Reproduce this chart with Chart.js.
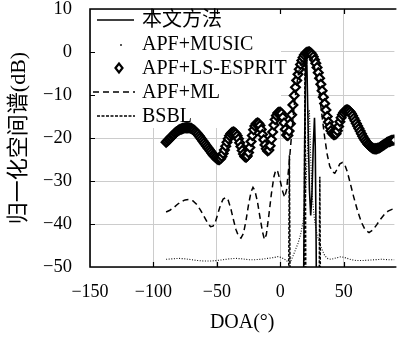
<!DOCTYPE html>
<html><head><meta charset="utf-8">
<script src="https://cdn.jsdelivr.net/npm/chart.js@4/dist/chart.umd.min.js"></script>
<style>html,body{margin:0;padding:0;background:#fff}canvas{display:block}</style>
</head><body>
<canvas id="c" width="401" height="338"></canvas>
<script>
// ---- data ----
const xTicks = [-150, -100, -50, 0, 50];
const yTicks = [-50, -40, -30, -20, -10, 0, 10];
const seriesNames = ['本文方法', 'APF+MUSIC', 'APF+LS-ESPRIT', 'APF+ML', 'BSBL'];

const propDeg = [-90, 17, 18.5, 19.3, 20, 20.5, 21, 22, 23, 24, 25, 26, 27, 27.6, 28.3, 29, 90];
const propDb  = [-80, -80, -50, -20, -3, 0, -3, -18, -32, -38, -33, -22, -15.3, -22, -45, -80, -80];

const musicDeg = [-90,-85,-80,-75,-70,-65,-60,-55,-50,-45,-40,-35,-30,-25,-20,-15,-10,-5,-2,1,4,6,8,10,12,14,16,18,20,21.5,22.5,23,23.8,25,27,29,31,33,35,37,40,44,48,52,56,60,65,70,75,80,85,90];
const musicDb  = [-48.2,-48.1,-48,-48.1,-48.3,-48.5,-48.6,-48.6,-48.5,-48.3,-48.1,-48,-48.1,-48.3,-48.3,-48.2,-48,-47.8,-47.6,-47.8,-48.3,-48.8,-48.8,-47.5,-46,-44.5,-42.5,-39.5,-33,-22,-14,-13.5,-22.8,-33,-39,-42.5,-44.5,-46,-47.3,-48,-48.2,-47.9,-47.6,-47.9,-48.3,-48.5,-48.5,-48.4,-48.3,-48.2,-48.3,-48.3];

const espritDeg = [-90,-89,-88,-87,-86,-85,-84,-83,-82,-81,-80,-79,-78,-77,-76,-75,-74,-73,-72,-71,-70,-69,-68,-67,-66,-65,-64,-63,-62,-61,-60,-59,-58,-57,-56,-55,-54,-53,-52,-51,-50,-49,-48,-47,-46,-45,-44,-43,-42,-41,-40,-39,-38,-37,-36,-35,-34,-33,-32,-31,-30,-29,-28,-27,-26,-25,-24,-23,-22,-21,-20,-19,-18,-17,-16,-15,-14,-13,-12,-11,-10,-9,-8,-7,-6,-5,-4,-3,-2,-1,0,1,2,3,4,5,6,7,8,9,10,11,12,13,14,15,16,17,18,19,20,21,22,23,24,25,26,27,28,29,30,31,32,33,34,35,36,37,38,39,40,41,42,43,44,45,46,47,48,49,50,51,52,53,54,55,56,57,58,59,60,61,62,63,64,65,66,67,68,69,70,71,72,73,74,75,76,77,78,79,80,81,82,83,84,85,86,87,88,89,90];
const espritDb = [
 -21,-20.7,-20.4,-20.1,-19.8,-19.5,-19.2,-18.9,-18.6,-18.4,
 -18.2,-18,-17.9,-17.8,-17.7,-17.6,-17.6,-17.6,-17.6,-17.7,
 -17.8,-18,-18.2,-18.5,-18.8,-19.1,-19.5,-19.9,-20.3,-20.7,
 -21.1,-21.5,-21.9,-22.3,-22.7,-23.1,-23.5,-23.9,-24.2,-24.5,
 -24.8,-25,-25,-24.8,-24.3,-23.6,-22.8,-21.9,-21,-20.2,
 -19.5,-19,-18.7,-18.6,-18.7,-19,-19.5,-20.2,-21.1,-22,
 -22.9,-23.7,-24.3,-24.5,-24.2,-23.4,-22.2,-20.8,-19.4,-18.1,
 -17.2,-16.7,-16.5,-16.6,-17.1,-18,-19.2,-20.4,-21.6,-22.5,
 -23,-22.8,-21.8,-20.3,-18.6,-17,-15.7,-14.8,-14.2,-14,
 -14,-14.3,-15.2,-16.5,-18,-19.3,-19.4,-18.4,-16.7,-14.6,
 -12.3,-10.1,-8.2,-6.6,-5.2,-4,-2.9,-2,-1.3,-0.7,
 -0.3,-0.1,0,0,-0.2,-0.6,-1.1,-1.8,-2.6,-3.6,
 -4.8,-6.1,-7.5,-9,-10.5,-12,-13.5,-15,-16.3,-17.4,
 -18.3,-18.9,-19.2,-19.2,-19,-18.3,-17.3,-16.2,-15.3,-14.6,
 -14.1,-13.7,-13.5,-13.5,-13.6,-13.9,-14.3,-14.8,-15.4,-16,
 -16.6,-17.2,-17.8,-18.4,-19,-19.6,-20.1,-20.6,-21,-21.4,
 -21.7,-22,-22.2,-22.4,-22.5,-22.5,-22.5,-22.4,-22.3,-22.1,
 -21.9,-21.7,-21.5,-21.3,-21.1,-20.9,-20.8,-20.7,-20.6,-20.5,-20.5];

const mlDeg = [-90,-87,-84,-81,-78,-75,-72,-69,-66,-63,-60,-57,-55,-53,-51,-49,-47,-45,-43,-41,-39,-37,-35,-33,-31,-29,-27,-25,-23,-21.5,-20,-18,-16,-14,-12.5,-11,-9,-7,-5,-3.5,-2,0,2,3.5,5,7,9,11,13,15,17,19,21,23,25,27,29,31,33,35,37,39,41,43,45,47,49,51,53,55,58,61,64,67,70,73,76,79,82,85,88,90];
const mlDb  = [-37.2,-36.8,-36.2,-35.4,-34.8,-34.4,-34.3,-34.6,-35.4,-36.7,-38.3,-39.9,-40.6,-40.5,-39.4,-37.4,-35.5,-34.2,-33.8,-34.5,-36.4,-38.9,-41.2,-42.8,-43.3,-42.2,-39.2,-35.5,-32.5,-31.5,-32.2,-34.8,-38.4,-41.8,-43.6,-42.5,-38,-33,-29,-27.4,-27.8,-30,-32.5,-33.8,-32,-26,-19,-12.5,-7.5,-4,-1.8,-0.6,0,-0.4,-1.6,-3.6,-6.5,-10.3,-15,-19.8,-23.8,-26.5,-27.8,-28.2,-27.2,-26,-25.7,-26.3,-28,-30.3,-33.8,-37,-39.6,-41.4,-42,-41.4,-40.2,-38.9,-37.8,-37,-36.6,-36.5];

const bsblDeg = [-90, 6, 6.7, 7.2, 7.7, 8.4, 18.3, 18.9, 19.5, 20.1, 20.7, 30.2, 30.8, 31.2, 31.6, 32.2, 90];
const bsblDb  = [-80, -80, -50, -24, -50, -80, -80, -50, -0.5, -50, -80, -80, -50, -29, -50, -80, -80];

// ---- chart ----
const zip = (xs, ys) => xs.map((x, i) => ({x: x, y: ys[i]}));
const SERIF = '"Liberation Serif", "Noto Sans CJK SC", serif';

const datasets = [
  {label: seriesNames[0], data: zip(propDeg, propDb), borderColor: '#000', borderWidth: 1.6, pointRadius: 0, tension: 0, order: 0},
  {label: seriesNames[1], data: zip(musicDeg, musicDb), borderColor: '#111', borderWidth: 1.1, borderDash: [1, 1.6], pointRadius: 0, tension: 0, order: 3},
  {label: seriesNames[2], data: zip(espritDeg, espritDb), showLine: false, pointStyle: 'rectRot', pointRadius: 4.4, pointBorderWidth: 2.2, pointBorderColor: '#000', pointBackgroundColor: '#fff', borderColor: '#000', backgroundColor: '#fff', order: 4},
  {label: seriesNames[3], data: zip(mlDeg, mlDb), borderColor: '#000', borderWidth: 1.5, borderDash: [6, 4], pointRadius: 0, tension: 0, order: 2},
  {label: seriesNames[4], data: zip(bsblDeg, bsblDb), borderColor: '#000', borderWidth: 1.5, borderDash: [3, 1.5], pointRadius: 0, tension: 0, order: 1}
];

const insetLegend = {
  id: 'insetLegend',
  beforeDatasetsDraw(chart) {
    const {ctx, chartArea: a} = chart;
    ctx.save();
    ctx.fillStyle = '#fff';
    ctx.fillRect(a.left + 1, a.top + 1, 190, 118);
    const rows = [11, 35, 59, 83, 107];
    const x0 = a.left + 7, x1 = a.left + 44, xm = a.left + 29, xt = a.left + 52;
    ctx.strokeStyle = '#000';
    datasets.forEach((ds, i) => {
      const y = a.top + rows[i];
      ctx.save();
      if (i === 0) { ctx.lineWidth = 1.6; ctx.setLineDash([]); ctx.beginPath(); ctx.moveTo(x0, y); ctx.lineTo(x1, y); ctx.stroke(); }
      if (i === 1) { ctx.fillStyle = '#222'; ctx.beginPath(); ctx.arc(xm + 2, y + 1, 1, 0, Math.PI * 2); ctx.fill(); }
      if (i === 2) { ctx.lineWidth = 2.2; ctx.fillStyle = '#fff'; ctx.beginPath(); ctx.moveTo(xm - 3.5, y); ctx.lineTo(xm, y - 4.5); ctx.lineTo(xm + 3.5, y); ctx.lineTo(xm, y + 4.5); ctx.closePath(); ctx.fill(); ctx.stroke(); }
      if (i === 3) { ctx.lineWidth = 1.5; ctx.setLineDash([6, 4]); ctx.beginPath(); ctx.moveTo(x0 - 4, y); ctx.lineTo(x1 + 1, y); ctx.stroke(); }
      if (i === 4) { ctx.lineWidth = 1.5; ctx.setLineDash([3, 1.5]); ctx.beginPath(); ctx.moveTo(x0, y); ctx.lineTo(x1 + 1, y); ctx.stroke(); }
      ctx.restore();
      ctx.fillStyle = '#000';
      ctx.font = '20px ' + SERIF;
      ctx.textBaseline = 'middle';
      ctx.textAlign = 'left';
      ctx.fillText(ds.label, xt, y + 1);
    });
    ctx.restore();
  }
};

const frame = {
  id: 'frame',
  afterDraw(chart) {
    const {ctx, chartArea: a, scales} = chart;
    ctx.save();
    ctx.strokeStyle = '#000';
    ctx.lineWidth = 1.6;
    ctx.beginPath();
    ctx.moveTo(a.right + 2, a.top); ctx.lineTo(a.left, a.top); ctx.lineTo(a.left, a.bottom); ctx.lineTo(a.right + 2, a.bottom);
    ctx.stroke();
    ctx.lineWidth = 1.2;
    ctx.beginPath();
    xTicks.forEach(v => {
      if (v === -150) return;
      const px = Math.round(scales.x.getPixelForValue(v)) + 0.5;
      ctx.moveTo(px, a.bottom); ctx.lineTo(px, a.bottom - 5);
      ctx.moveTo(px, a.top); ctx.lineTo(px, a.top + 5);
    });
    yTicks.forEach(v => {
      if (v === -50 || v === 10) return;
      const py = Math.round(scales.y.getPixelForValue(v)) + 0.5;
      ctx.moveTo(a.left, py); ctx.lineTo(a.left + 5, py);
    });
    ctx.stroke();
    ctx.restore();
  }
};

new Chart(document.getElementById('c'), {
  type: 'line',
  data: {datasets: datasets},
  options: {
    responsive: false,
    devicePixelRatio: 1,
    animation: false,
    layout: {padding: {top: 9, right: 1, left: 0, bottom: 0}},
    plugins: {legend: {display: false}, tooltip: {enabled: false}},
    scales: {
      x: {
        type: 'linear', min: -150, max: 90,
        afterBuildTicks: s => { s.ticks = xTicks.map(v => ({value: v})); },
        afterFit: s => { s.height = 71; s.paddingLeft = 0; s.paddingRight = 0; },
        grid: {color: '#cccccc', lineWidth: 1, drawTicks: false},
        border: {display: false},
        ticks: {color: '#000', padding: 14, font: {family: SERIF, size: 18}, callback: v => String(v).replace('-', '\u2212')},
        title: {display: true, text: 'DOA(°)', color: '#000', font: {family: SERIF, size: 20}, padding: {top: 0, bottom: 3}}
      },
      y: {
        type: 'linear', min: -50, max: 10,
        afterBuildTicks: s => { s.ticks = yTicks.map(v => ({value: v})); },
        afterFit: s => { s.width = 90; s.paddingTop = 0; s.paddingBottom = 0; },
        grid: {color: '#cccccc', lineWidth: 1, drawTicks: false},
        border: {display: false},
        ticks: {color: '#000', padding: 18, font: {family: SERIF, size: 18.5}, callback: v => String(v).replace('-', '\u2212')},
        title: {display: true, text: '归一化空间谱(dB)', color: '#000', font: {family: SERIF, size: 22}, padding: {top: 6, bottom: 0}}
      }
    }
  },
  plugins: [insetLegend, frame]
});
</script>
</body></html>
